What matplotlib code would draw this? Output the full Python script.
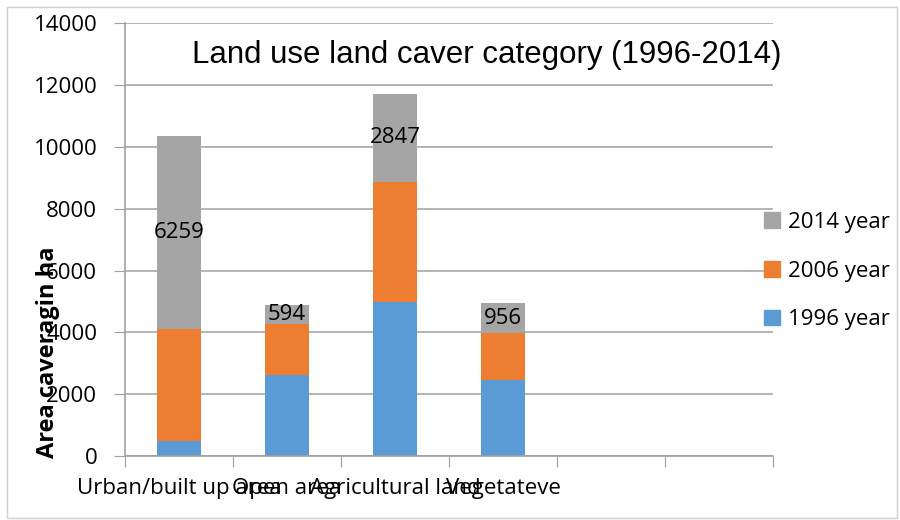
import matplotlib.pyplot as plt
import matplotlib.patches as mpatches
import numpy as np

categories = ['Urban/built up area', 'Open area', 'Agricultural land', 'Vegetateve']
n_slots = 6  # the axis has two empty category slots on the right
y1996 = [485, 2631, 4994, 2450]
y2006 = [3625, 1651, 3873, 1531]
y2014 = [6259, 594, 2847, 956]
series_names = ['1996 year', '2006 year', '2014 year']
colors = ['#5B9BD5', '#ED7D31', '#A5A5A5']
yticks = [0, 2000, 4000, 6000, 8000, 10000, 12000, 14000]

plt.rcParams['font.family'] = ['Open Sans', 'DejaVu Sans']

fig = plt.figure(figsize=(9, 5.2), dpi=100)
ax = fig.add_axes([125 / 900, 1 - 456 / 520, (773 - 125) / 900, (456 - 23.3) / 520])

x = np.arange(len(categories))
b1 = np.array(y1996)
b2 = b1 + np.array(y2006)
w = 0.4
ax.bar(x, y1996, w, color=colors[0], label=series_names[0], zorder=2)
ax.bar(x, y2006, w, bottom=b1, color=colors[1], label=series_names[1], zorder=2)
ax.bar(x, y2014, w, bottom=b2, color=colors[2], label=series_names[2], zorder=2)

for xi, base, v in zip(x, b2, y2014):
    ax.text(xi, base + v / 2, str(v), ha='center', va='center', fontsize=16, zorder=3)

ax.set_xlim(-0.5, n_slots - 0.5)
ax.set_ylim(0, 14000)
ax.set_yticks(yticks)
ax.tick_params(axis='y', labelsize=16, length=8, color='#A0A0A0', pad=12)
ax.yaxis.grid(True, color='#A8A8A8', linewidth=1.2, zorder=0)

ax.set_xticks(np.arange(n_slots + 1) - 0.5)
ax.set_xticklabels([])
ax.tick_params(axis='x', which='major', length=8, color='#A0A0A0')
ax.set_xticks(x, minor=True)
ax.set_xticklabels(categories, minor=True, fontsize=16)
ax.tick_params(axis='x', which='minor', length=0, pad=16)

for s in ['top', 'right']:
    ax.spines[s].set_visible(False)
for s in ['left', 'bottom']:
    ax.spines[s].set_color('#A0A0A0')
    ax.spines[s].set_linewidth(1.2)

ax.text((487 - 125) / 648, 1 - (55 - 23.3) / 432.7, 'Land use land caver category (1996-2014)',
        transform=ax.transAxes, ha='center', va='center', fontsize=22.5,
        family=['Liberation Sans', 'DejaVu Sans'])

fig.text(48 / 900, 1 - 352 / 520, 'Area caveragin ha', rotation=90, ha='center', va='center',
         fontsize=17, fontweight='bold')

handles = [mpatches.Patch(color=colors[i], label=series_names[i]) for i in [2, 1, 0]]
fig.legend(handles=handles, loc='center left', bbox_to_anchor=(764 / 900, 1 - 271 / 520),
           frameon=False, fontsize=16, handlelength=0.7, handleheight=0.7,
           labelspacing=1.25, handletextpad=0.4, borderaxespad=0, borderpad=0)

fig.patches.append(mpatches.Rectangle((7 / 900, 2 / 520), 890 / 900, 511 / 520,
                                      transform=fig.transFigure, fill=False,
                                      edgecolor='#D0D0D0', linewidth=1))

fig.savefig('out.png', dpi=100)
